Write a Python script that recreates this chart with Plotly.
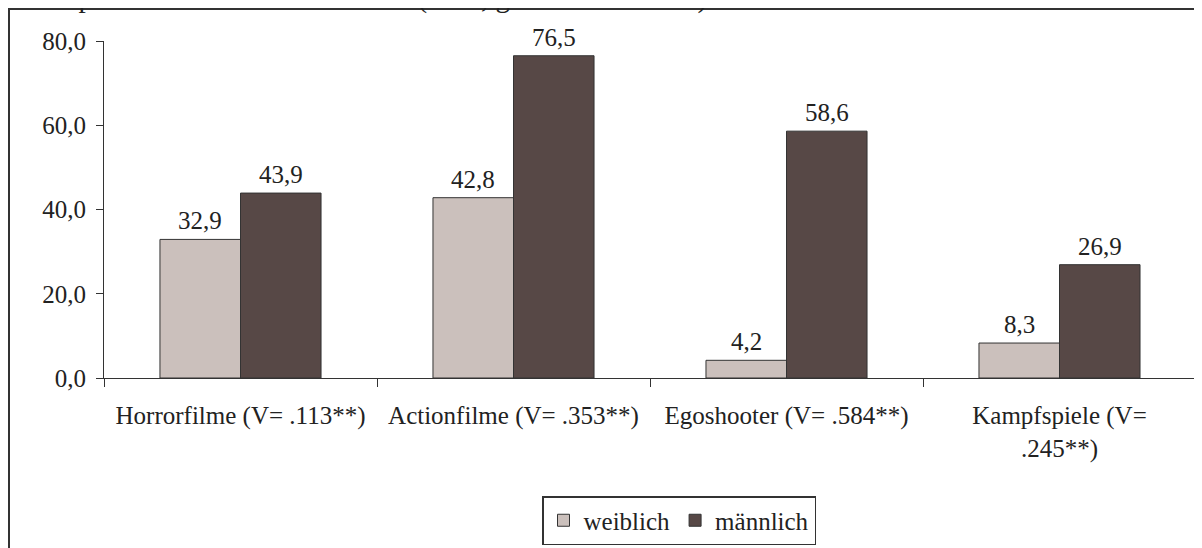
import plotly.graph_objects as go

categories = ["Horrorfilme (V= .113**)", "Actionfilme (V= .353**)", "Egoshooter (V= .584**)", "Kampfspiele (V=<br>.245**)"]
weiblich = [32.9, 42.8, 4.2, 8.3]
maennlich = [43.9, 76.5, 58.6, 26.9]
series_names = ["weiblich", "männlich"]
y_ticks = [0, 20, 40, 60, 80]
title_text = "Videospielformate nach Geschlecht (in %, gewichtete Daten)"

OFF = 8  # page body margin
W, H = 1202 - OFF, 548 - OFF
L, R, T, B = 104 - OFF, 1196 - OFF, 41 - OFF, 378 - OFF  # plot area in figure pixels
PW, PH = R - L, B - T

def px_x(p):
    return (p - OFF - L) / PW

def px_y(p):
    return (B - (p - OFF)) / PH

FONT = "Liberation Serif, DejaVu Serif, Noto Serif, serif"
FS = 25
TXT = "#222222"
LINE = "#333333"
COL_W = "#CBC0BC"
COL_M = "#574846"

fig = go.Figure()
fig.add_trace(go.Bar(x=categories, y=weiblich, name=series_names[0],
                     marker=dict(color=COL_W, line=dict(color=LINE, width=1))))
fig.add_trace(go.Bar(x=categories, y=maennlich, name=series_names[1],
                     marker=dict(color=COL_M, line=dict(color=LINE, width=1))))

annotations = []
bar_px = PW / len(categories) * (1 - 0.41) / 2
for vals, shift in ((weiblich, -bar_px / 2), (maennlich, bar_px / 2)):
    for c, v in zip(categories, vals):
        annotations.append(dict(x=c, y=v, xref="x", yref="y", text=f"{v:.1f}".replace(".", ","),
                                showarrow=False, xshift=shift, yshift=3, yanchor="bottom",
                                font=dict(family=FONT, size=FS, color=TXT)))

annotations.append(dict(x=px_x(-4), y=px_y(-2), xref="paper", yref="paper", text=title_text,
                        showarrow=False, xanchor="left", yanchor="middle",
                        font=dict(family=FONT, size=29, color=TXT)))

shapes = [
    dict(type="line", xref="paper", yref="paper", x0=px_x(9), x1=px_x(9), y0=px_y(9), y1=px_y(600),
         line=dict(color=LINE, width=2)),
    dict(type="line", xref="paper", yref="paper", x0=px_x(8), x1=px_x(1300), y0=px_y(9), y1=px_y(9),
         line=dict(color=LINE, width=2)),
]

fig.update_layout(
    width=W, height=H,
    margin=dict(l=L, r=W - R, t=T, b=H - B, pad=0, autoexpand=False),
    paper_bgcolor="white", plot_bgcolor="white",
    barmode="group", bargap=0.41, bargroupgap=0,
    separators=",.",
    font=dict(family=FONT, size=FS, color=TXT),
    showlegend=True,
    legend=dict(orientation="h", xref="container", yref="container",
                x=(679 - OFF) / W, xanchor="center", y=(H - (545 - OFF)) / H, yanchor="bottom",
                bordercolor=LINE, borderwidth=1.5, bgcolor="white",
                font=dict(family=FONT, size=FS, color=TXT), itemwidth=30, tracegroupgap=0),
    annotations=annotations,
    shapes=shapes,
)
fig.update_xaxes(showline=True, linecolor=LINE, linewidth=1, ticks="outside", tickson="boundaries",
                 ticklen=8, tickcolor=LINE, tickwidth=1, showgrid=False, zeroline=False,
                 ticklabelstandoff=15, tickfont=dict(family=FONT, size=FS, color=TXT))
fig.update_yaxes(range=[0, 80], tickvals=y_ticks, tickformat=".1f", showline=True, linecolor=LINE,
                 linewidth=1, ticks="outside", ticklen=7, tickcolor=LINE, tickwidth=1,
                 showgrid=False, zeroline=False, ticklabelstandoff=5,
                 tickfont=dict(family=FONT, size=FS, color=TXT))

fig.write_html("out.html")
